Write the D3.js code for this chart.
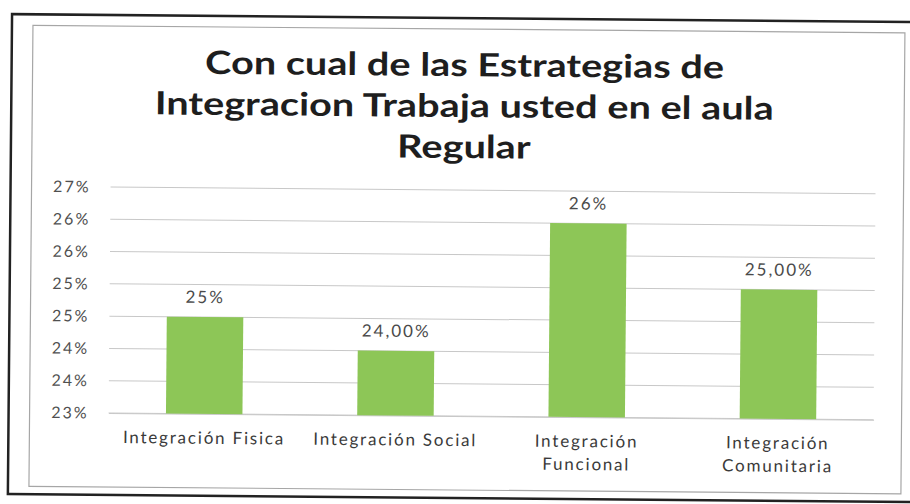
<!DOCTYPE html>
<html>
<head>
<meta charset="utf-8">
<script src="https://cdn.jsdelivr.net/npm/d3@7"></script>
<style>
	body { margin: 0; background: #fff; }
	svg { display: block; }
</style>
</head>
<body>
<div class="chart"></div>
<script>
// bar chart - estrategias de integracion
const categories = ['Integración Fisica', 'Integración Social', 'Integración Funcional', 'Integración Comunitaria']
const categoryLines = [['Integración Fisica'], ['Integración Social'], ['Integración', 'Funcional'], ['Integración', 'Comunitaria']]
const values = [24.5, 24, 26, 25]
const valueLabels = ['25%', '24,00%', '26%', '25,00%']
const yTicks = [23, 23.5, 24, 24.5, 25, 25.5, 26, 26.5]
const yTickLabels = ['23%', '24%', '24%', '25%', '25%', '26%', '26%', '27%']
const titleLines = ['Con cual de las Estrategias de', 'Integracion Trabaja usted en el aula', 'Regular']

const W = 910
const H = 504
const margin = ({top: 190, right: 35, bottom: 88, left: 110})
const width = W - margin.left - margin.right
const height = H - margin.top - margin.bottom
const font = 'Lato, "Open Sans", sans-serif'

const root = d3.select('.chart')
	.append('svg')
	.attr('width', W)
	.attr('height', H)
	.append('g')
	.attr('transform', 'rotate(0.5, 455, 252)')

// photo frame + chart box
root.append('rect')
	.attr('x', 10).attr('y', 18)
	.attr('width', 930).attr('height', 480)
	.attr('fill', 'none')
	.attr('stroke', '#222')
	.attr('stroke-width', 2.5)

root.append('rect')
	.attr('x', 31).attr('y', 29)
	.attr('width', 872).attr('height', 461)
	.attr('fill', '#fff')
	.attr('stroke', '#a6a6a6')
	.attr('stroke-width', 1.2)

// title (scan is a bit stretched sideways)
root.append('g')
	.attr('transform', 'translate(463, 0) scale(1.24, 1)')
	.selectAll('text')
	.data(titleLines)
	.enter()
	.append('text')
	.attr('x', 0)
	.attr('y', (d, i) => 76 + i * 41)
	.attr('text-anchor', 'middle')
	.attr('font-family', font)
	.attr('font-weight', 'bold')
	.attr('font-size', '32px')
	.attr('fill', '#1e1e1e')
	.text(d => d)

const svg = root.append('g')
	.attr('transform', `translate(${margin.left},${margin.top})`)

const xScale = d3.scaleBand()
	.domain(categories)
	.range([0, width])
	.paddingInner(0.6)
	.paddingOuter(0.3)

const yScale = d3.scaleLinear()
	.domain([23, 26.5])
	.range([height, 0])

// gridlines
svg.append('g').selectAll('line')
	.data(yTicks)
	.enter()
	.append('line')
	.attr('x1', 0)
	.attr('x2', width)
	.attr('y1', d => yScale(d))
	.attr('y2', d => yScale(d))
	.attr('stroke', '#c8c8c8')
	.attr('stroke-width', 1)

const yAxis = d3.axisLeft(yScale)
	.tickValues(yTicks)
	.tickSize(0)
	.tickPadding(20)
	.tickFormat((d, i) => yTickLabels[i])

svg.append('g')
	.attr('class', 'axis y-axis')
	.call(yAxis)
	.call(g => g.select('.domain').remove())
	.selectAll('text')
	.attr('font-family', font)
	.attr('font-size', '16px')
	.attr('letter-spacing', '2px')
	.attr('fill', '#505050')

const xAxis = d3.axisBottom(xScale)
	.tickSize(0)
	.tickPadding(0)
	.tickFormat(() => '')

const xg = svg.append('g')
	.attr('class', 'axis x-axis')
	.attr('transform', `translate(0, ${height})`)
	.call(xAxis)

xg.select('.domain').attr('stroke', '#c8c8c8')

xg.selectAll('.tick text')
	.attr('font-family', font)
	.attr('font-size', '17px')
	.attr('letter-spacing', '1.8px')
	.attr('fill', '#3a3a3a')
	.attr('y', null)
	.attr('dy', null)
	.each(function (d, i) {
		const t = d3.select(this)
		categoryLines[i].forEach((line, j) => {
			t.append('tspan')
				.attr('x', 0)
				.attr('y', 30 + j * 23)
				.text(line)
		})
	})

// bars
svg.selectAll('rect.bar')
	.data(values)
	.enter()
	.append('rect')
	.attr('class', 'bar')
	.attr('x', (d, i) => xScale(categories[i]))
	.attr('y', d => yScale(d))
	.attr('width', xScale.bandwidth())
	.attr('height', d => height - yScale(d))
	.attr('fill', '#8dc657')

// value labels
svg.append('g').selectAll('text')
	.data(values)
	.enter()
	.append('text')
	.attr('x', (d, i) => xScale(categories[i]) + xScale.bandwidth() / 2)
	.attr('y', d => yScale(d) - 14)
	.attr('text-anchor', 'middle')
	.attr('font-family', font)
	.attr('font-size', '17px')
	.attr('letter-spacing', '2px')
	.attr('fill', '#4a4a4a')
	.text((d, i) => valueLabels[i])
</script>
</body>
</html>
